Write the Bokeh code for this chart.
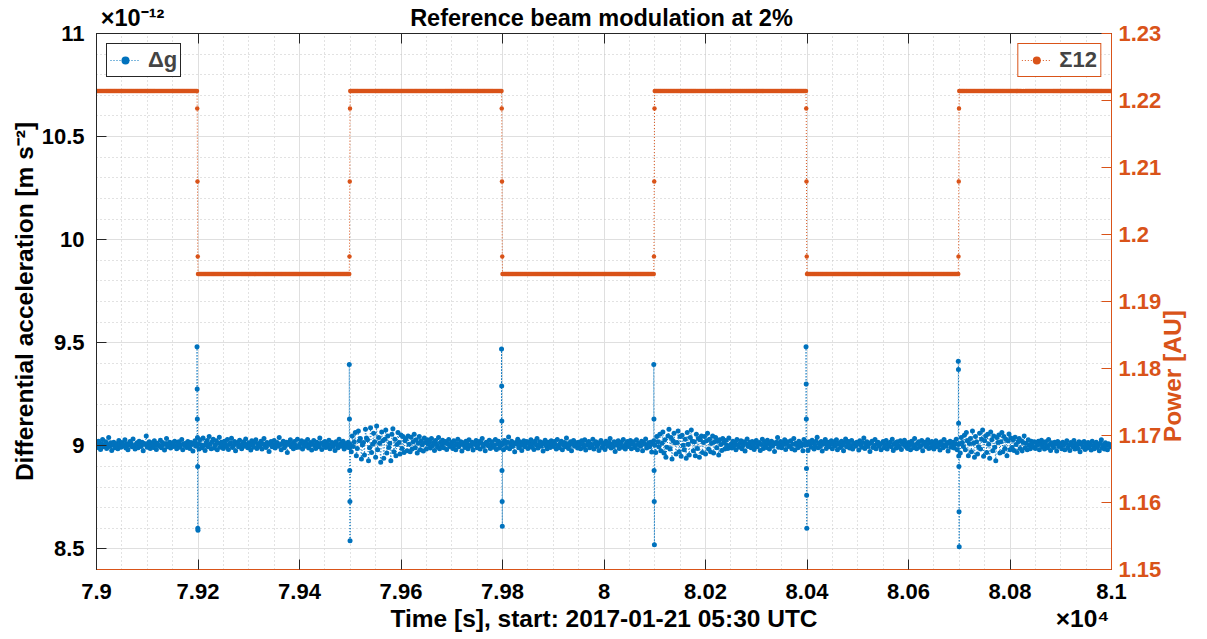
import math
import numpy as np
from bokeh.plotting import figure
from bokeh.models import Range1d, LinearAxis, FixedTicker, Legend, LegendItem
from bokeh.embed import file_html
from bokeh.resources import INLINE

# ---------------- data ----------------
time_start = 79000.0
sample_step = 2.0
dg_level = 9.0
dg_noise_unit = 0.0016  # one step of the list below, in 1e-12 m s^-2
# deviations of delta-g around its level
dg_noise = [
    8, -5, 14, 2, -11, 6, 19, -3, 0, 12, -8, 4, 25, -2, 9, -14, 3, 11, -6, 7, 1, -9, 16, 5, -4,
    10, -1, 3, 18, -7, 6, -12, 2, 13, 8, -3, 21, 0, -10, 5, 9, -6, 14, 3, -2, 11, -15, 7, 4, 30,
    -4, 6, 12, -8, 1, 9, -5, 15, 3, -11, 8, 2, -1, 17, -6, 10, 4, -13, 6, 22, -3, 5, 11, -7, 2,
    9, -2, 14, 0, -9, 7, 12, -4, 3, 19, -12, 6, 1, 8, -5, 13, 2, -8, 10, 4, -16, 7, 15, -1, 5,
    6, -10, 18, 3, -6, 24, 1, -14, 9, 16, -3, 28, 5, -9, 12, 20, -7, 2, 15, -12, 8, 26, -4, 11, 3,
    -8, 14, 6, -2, 19, -11, 4, 9, 23, -5, 1, 13, -15, 7, 10, -3, 17, 2, -9, 6, 12, -1, 21, 4, -6,
    9, 0, -13, 15, 5, -4, 11, 18, -8, 3, 7, -2, 14, -10, 6, 22, 1, -5, 10, 4, -17, 8, 13, -3, 2,
    16, -7, 5, 10, -1, 25, 3, -12, 7, 14, -6, 0, 11, -20, 9, 4, 18, -3, 6, -9, 13, 2, -5, 20, 1,
    -4, 8, 15, -10, 3, 12, -1, 6, 19, -7, 2, 10, -13, 5, 16, 0, -8, 11, 4, -3, 24, 7, -11, 9, 1,
    13, -5, 6, 2, 17, -9, 4, 10, -2, 8, -14, 12, 3, -6, 20, 5, -1, 9, 14, -10, 2, 7, -4, 11, 0,
    5, -18, 30, -2, 12, 40, -30, -8, 45, 15, 22, -40, 3, 10, -28, 50, 24, 18, -45, -6, 55, -20, 5, 38, 12,
    -35, 60, -12, 25, 8, -50, 42, 15, -38, 20, 48, -22, 30, -5, 8, -45, 35, 52, -18, 20, -30, 4, 40, 10, -25,
    33, -8, 28, -20, 15, 22, -15, 30, 5, -18, 26, -10, 12, 35, -6, 18, -22, 8, 28, -12, 15, 3, -16, 24, 10,
    -10, 18, 4, 12, -7, 22, 0, 9, -14, 16, 5, -4, 25, -9, 11, 2, 17, -6, 8, 13, -11, 6, 19, -2, 3,
    10, -8, 15, 1, -12, 7, 20, -3, 5, 12, -16, 9, 3, -5, 14, 6, -9, 18, 2, -1, 11, -13, 8, 4, 16,
    -6, 3, 13, -10, 9, 22, -2, 5, -15, 11, 7, 0, 17, -8, 4, 12, -4, 1, 19, -11, 6, 14, -7, 2, 9,
    4, -12, 16, 8, -5, 11, 27, -9, 3, 14, -2, 7, -18, 10, 5, 20, -6, 12, 1, -14, 9, 15, -3, 6, 13,
    -8, 10, 2, 18, -4, 7, -11, 14, 3, 22, -7, 5, 12, -1, 9, -16, 6, 17, 0, -9, 11, 4, -5, 15, 8,
    -2, 13, 5, -10, 19, 1, -6, 8, 14, -12, 3, 10, -3, 24, 6, -8, 2, 12, -15, 7, 16, -1, 4, 9, -7,
    11, 3, -9, 15, 6, -4, 18, -13, 2, 9, 13, -6, 5, 0, 20, -10, 7, 12, -2, 4, -14, 10, 16, -5, 1,
    8, -11, 14, 3, -1, 10, 22, -7, 5, -3, 12, -17, 9, 2, 15, -8, 6, 11, -4, 19, 0, -10, 7, 13, -2,
    4, 16, -9, 6, 12, -5, 1, 18, -12, 8, 3, -1, 14, -15, 10, 5, 21, -7, 2, 9, -3, 11, -19, 6, 15,
    2, -20, 28, 12, -3, 35, -15, 8, 42, -22, 18, -35, -4, 30, 50, -10, 25, -40, 15, 38, 9, -25, 10, 45, -18,
    28, -32, 32, 2, -12, 20, -38, 40, 5, -28, 25, 48, 14, -15, 12, -30, 35, -8, 22, -35, 18, 30, -20, 10, 28,
    -25, 15, 38, -10, 20, -18, 8, 30, -22, 12, 25, -6, 15, -28, 18, 4, -14, 22, 9, -10, 16, 2, -8, 24, -3,
    5, -7, 14, 0, 10, -12, 19, 3, -4, 8, 15, -9, 2, 12, -16, 7, 21, -2, 5, 11, -6, 13, 1, -11, 9,
    16, -3, 6, 10, -14, 4, 20, -8, 12, 1, -5, 17, 8, -10, 3, 14, -1, 9, -17, 6, 11, 25, -4, 2, 13,
    -6, 9, 4, 18, -11, 7, 12, -2, 0, 15, -9, 5, 22, -13, 8, 3, -6, 14, 10, -1, 6, -15, 19, 2, 11,
    3, -14, 12, 6, -4, 17, 9, -10, 2, 14, 26, -6, 8, -2, 13, -16, 5, 10, 19, -8, 1, 11, -3, 7, 15,
    -9, 4, 12, 0, 18, -12, 6, 9, -5, 14, 2, -15, 10, 21, -3, 7, 13, -7, 1, 16, -10, 5, 8, -1, 11,
    6, -13, 15, 3, -4, 10, 24, -8, 2, 12, -2, 7, -17, 9, 14, -5, 1, 19, -9, 6, 11, -1, 4, -12, 8,
    13, -6, 3, 16, -10, 7, 0, 11, -3, 20, -14, 5, 9, -7, 12, 2, -4, 15, -11, 8, 4, 17, -2, 6, -8,
    10, 1, -12, 14, 5, -6, 22, 3, -9, 8, 12, -4, 0, 16, -15, 7, 11, -2, 4, 18, -8, 9, -5, 13, 2,
    -10, 6, 15, -3, 9, 1, -13, 12, 5, -6, 19, 3, -1, 10, -16, 8, 14, -4, 2, 11, -7, 6, 20, -12, 4,
    6, -22, 25, 10, -2, 32, -12, 40, 15, -30, 7, 22, -18, 45, 8, -35, 28, 12, -25, -3, 38, -10, 20, 48, -32,
    15, 30, -20, 35, 5, -38, 42, 18, -15, 30, -4, -45, 25, 10, 33, -22, 12, 40, -18, 28, -8, 20, -30, 15, 36,
    -12, 24, -5, 18, -14, 26, 4, -20, 12, 22, -8, 15, -16, 10, 30, -6, 8, -12, 18, 2, -9, 14, 6, -4, 12,
    -8, 10, 2, 14, -12, 5, 17, -3, 8, -10, 12, 0, -6, 19, 4, -14, 9, 1, -5, 11, 6, -16, 13, -2, 7,
    0, -9, 11, 3, -12, 8, 15, -6, 2, -14, 10, 4, -3, 16, -10, 6, 1, -8, 12, -18, 5, 9, -4, 13, -11,
    3, -7, 10, -2, 7, -13, 14, 0, -9, 5, 11, -5, 2, -15, 8, 18, -6, 3, -10, 9, 1, -12, 6, 4, -3,
]
# beam switching instants [s]
switch_times = [79200, 79500, 79800, 80100, 80400, 80700]
# delta-g transient samples at each switch (units 1e-12 m s^-2)
dg_spikes = [
    [9.48, 9.275, 9.13, 9.04, 8.90, 8.60, 8.59],
    [9.395, 9.13, 8.99, 8.88, 8.73, 8.54],
    [9.47, 9.29, 9.12, 8.88, 8.73, 8.61],
    [9.395, 9.13, 8.88, 8.73, 8.52],
    [9.48, 9.30, 9.13, 8.89, 8.76, 8.60],
    [9.41, 9.37, 9.11, 8.95, 8.90, 8.68, 8.51],
]
# Sigma12 power levels [AU]: high, low
power_levels = [1.2214, 1.1941]
power_steps_down = [1.2188, 1.2079, 1.1967]
power_steps_up = [1.1967, 1.2079, 1.2188]

x_ticks = [79000, 79200, 79400, 79600, 79800, 80000, 80200, 80400, 80600, 80800, 81000]
x_tick_labels = ["7.9", "7.92", "7.94", "7.96", "7.98", "8", "8.02", "8.04", "8.06", "8.08", "8.1"]
y_ticks = [8.5, 9.0, 9.5, 10.0, 10.5, 11.0]
y_tick_labels = ["8.5", "9", "9.5", "10", "10.5", "11"]
y2_ticks = [1.15, 1.16, 1.17, 1.18, 1.19, 1.20, 1.21, 1.22, 1.23]
y2_tick_labels = ["1.15", "1.16", "1.17", "1.18", "1.19", "1.2", "1.21", "1.22", "1.23"]

title_text = "Reference beam modulation at 2%"
x_label_text = "Time [s], start: 2017-01-21 05:30 UTC"
y_label_text = "Differential acceleration [m s\u207b\u00b2]"
y2_label_text = "Power [AU]"
y_exponent_text = "\u00d710\u207b\u00b9\u00b2"
x_exponent_text = "\u00d710\u2074"

# ---------------- build series ----------------
t_base = time_start + sample_step * np.arange(len(dg_noise))
dg_t = list(t_base)
dg_v = list(dg_level + np.array(dg_noise) * dg_noise_unit)
for T, vals in zip(switch_times, dg_spikes):
    for k, v in enumerate(vals):
        dg_t.append(T - 1.9 + 0.3 * k)
        dg_v.append(v)
order = np.argsort(dg_t)
dg_t = np.array(dg_t)[order]
dg_v = np.array(dg_v)[order]

pw_t = list(t_base)
pw_v = list(np.array(power_levels)[np.searchsorted(switch_times, t_base, side="right") % 2])
for i, T in enumerate(switch_times):
    steps = power_steps_down if i % 2 == 0 else power_steps_up
    for k, v in enumerate(steps):
        pw_t.append(T - 1.5 + 0.5 * k)
        pw_v.append(v)
order = np.argsort(pw_t)
pw_t = np.array(pw_t)[order]
pw_v = np.array(pw_v)[order]

# ---------------- figure ----------------
BLUE = "#0072BD"
ORANGE = "#D95319"
DARK = "#262626"
FONT = "Liberation Sans"

p = figure(width=1207, height=639, output_backend="svg", toolbar_location=None,
           x_range=Range1d(79000, 81000), y_range=Range1d(8.4, 11.0),
           min_border_left=96, min_border_right=96, min_border_top=33, min_border_bottom=70)
p.extra_y_ranges = {"power": Range1d(1.15, 1.23)}
p.outline_line_color = "black"
p.outline_line_width = 1
p.background_fill_color = "white"
p.border_fill_color = "white"

x_minor = [float(v) for v in np.arange(79000, 81001, 50)]
y_minor = [round(float(v), 2) for v in np.arange(8.4, 11.001, 0.1)]

xa = p.xaxis[0]
xa.ticker = FixedTicker(ticks=x_ticks, minor_ticks=x_minor)
xa.major_label_overrides = {t: l for t, l in zip(x_ticks, x_tick_labels)}
ya = p.yaxis[0]
ya.ticker = FixedTicker(ticks=y_ticks, minor_ticks=y_minor)
ya.major_label_overrides = {t: l for t, l in zip(y_ticks, y_tick_labels)}

for ax in (xa, ya):
    ax.major_tick_in = 10
    ax.major_tick_out = 0
    ax.minor_tick_line_color = None
    ax.major_tick_line_color = DARK
    ax.axis_line_color = DARK
    ax.major_label_text_font = FONT
    ax.major_label_text_font_style = "bold"
    ax.major_label_text_font_size = "22px"
    ax.major_label_text_color = "#000000"
    ax.axis_label_text_font = FONT
    ax.axis_label_text_font_style = "bold"
    ax.axis_label_text_font_size = "24.5px"
    ax.axis_label_text_color = "#000000"
xa.axis_line_color = ORANGE
xa.major_label_standoff = 10
ya.major_label_standoff = 8
ya.axis_label = y_label_text
ya.axis_label_standoff = 1

# second row under the x axis: axis title and the x10^4 multiplier
xb = LinearAxis(ticker=FixedTicker(ticks=[80000, 80943]))
xb.major_label_overrides = {80000: x_label_text, 80943: x_exponent_text}
xb.axis_line_color = None
xb.major_tick_line_color = None
xb.minor_tick_line_color = None
xb.major_tick_in = 0
xb.major_tick_out = 0
xb.major_label_standoff = 3
xb.major_label_text_font = FONT
xb.major_label_text_font_style = "bold"
xb.major_label_text_font_size = "24.5px"
xb.major_label_text_color = "#000000"
p.add_layout(xb, "below")

# top edge: ticks (as minor ticks) plus the title and the x10^-12 multiplier
top = LinearAxis(ticker=FixedTicker(ticks=[79071, 79995], minor_ticks=x_ticks))
top.major_label_overrides = {79071: y_exponent_text, 79995: title_text}
top.major_tick_line_color = None
top.major_tick_in = 0
top.major_tick_out = 0
top.minor_tick_in = 10
top.minor_tick_out = 0
top.minor_tick_line_color = DARK
top.axis_line_color = DARK
top.major_label_standoff = 3
top.major_label_text_font = FONT
top.major_label_text_font_style = "bold"
top.major_label_text_font_size = "23.5px"
top.major_label_text_color = "#000000"
p.add_layout(top, "above")

ra = LinearAxis(y_range_name="power", ticker=FixedTicker(ticks=y2_ticks))
ra.major_label_overrides = {t: l for t, l in zip(y2_ticks, y2_tick_labels)}
ra.major_tick_in = 10
ra.major_tick_out = 0
ra.minor_tick_line_color = None
ra.major_tick_line_color = ORANGE
ra.axis_line_color = ORANGE
ra.major_label_text_font = FONT
ra.major_label_text_font_style = "bold"
ra.major_label_text_font_size = "22px"
ra.major_label_text_color = ORANGE
ra.major_label_standoff = 7
p.add_layout(ra, "right")

# right axis title as a rotated label, starting a little below the middle like the reference
y2_label_anchor = 1.169
rb = LinearAxis(y_range_name="power", ticker=FixedTicker(ticks=[y2_label_anchor]))
rb.major_label_overrides = {y2_label_anchor: y2_label_text}
rb.major_label_orientation = math.pi / 2
rb.axis_line_color = None
rb.major_tick_line_color = None
rb.minor_tick_line_color = None
rb.major_tick_in = 0
rb.major_tick_out = 0
rb.major_label_standoff = 8
rb.major_label_text_font = FONT
rb.major_label_text_font_style = "bold"
rb.major_label_text_font_size = "24.5px"
rb.major_label_text_color = ORANGE
p.add_layout(rb, "right")

for g in (p.xgrid[0], p.ygrid[0]):
    g.grid_line_color = "#dfdfdf"
    g.grid_line_width = 1
    g.minor_grid_line_color = "#c4c4c4"
    g.minor_grid_line_dash = "1 3"
    g.minor_grid_line_width = 1

bl = p.line(dg_t, dg_v, line_color=BLUE, line_width=1, line_dash="1 2")
bs = p.scatter(dg_t, dg_v, size=5, color=BLUE, line_width=0)
ol = p.line(pw_t, pw_v, line_color=ORANGE, line_width=1, line_dash="1 2", y_range_name="power")
osc = p.scatter(pw_t, pw_v, size=4.5, color=ORANGE, line_width=0, y_range_name="power")

def make_legend(label, rends, loc, border):
    lg = Legend(items=[LegendItem(label=label, renderers=rends)], location=loc)
    lg.margin = 10
    lg.padding = 3
    lg.spacing = 0
    lg.glyph_width = 30
    lg.glyph_height = 20
    lg.label_standoff = 8
    lg.label_text_font = FONT
    lg.label_text_font_style = "bold"
    lg.label_text_font_size = "22px"
    lg.label_height = 21
    lg.border_line_color = border
    lg.border_line_width = 1
    lg.border_line_alpha = 1
    lg.background_fill_color = "white"
    lg.background_fill_alpha = 1
    return lg

p.add_layout(make_legend("\u0394g", [bl, bs], "top_left", DARK))
p.add_layout(make_legend("\u03a312", [ol, osc], "top_right", ORANGE))

open("out.html", "w").write(file_html(p, INLINE))
